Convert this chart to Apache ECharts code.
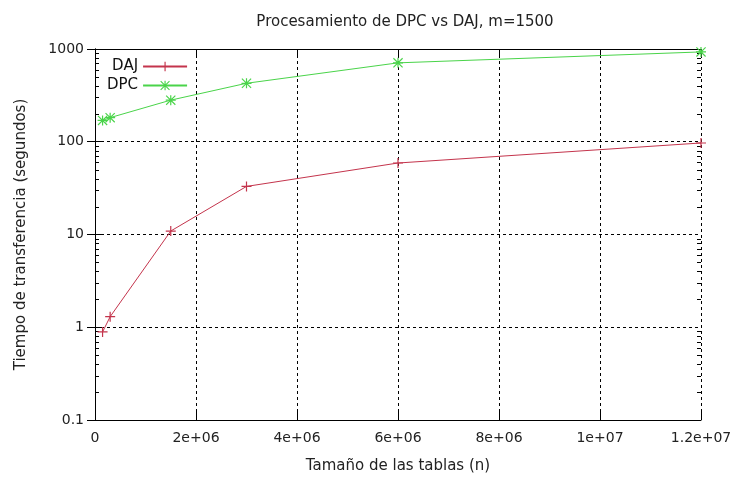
<!DOCTYPE html>
<html>
<head>
<meta charset="utf-8">
<script src="https://cdn.jsdelivr.net/npm/echarts@6/dist/echarts.min.js"></script>
<style>
html,body{margin:0;padding:0;background:#fff;}
#chart{width:731px;height:477px;}
</style>
</head>
<body>
<div id="chart"></div>
<script>
// ---- data ----
const titleText = 'Procesamiento de DPC vs DAJ, m=1500';
const xName = 'Tamaño de las tablas (n)';
const yName = 'Tiempo de transferencia (segundos)';
const seriesNames = ['DAJ', 'DPC'];
const xValues = [1.5e5, 3e5, 1.5e6, 3e6, 6e6, 1.2e7];
const dajValues = [0.89, 1.3, 10.9, 33, 59, 97];
const dpcValues = [170, 182, 281, 427, 709, 930];
const xTickValues = [0, 2e6, 4e6, 6e6, 8e6, 1e7, 1.2e7];
const xTickLabels = ['0', '2e+06', '4e+06', '6e+06', '8e+06', '1e+07', '1.2e+07'];
const yTickValues = [0.1, 1, 10, 100, 1000];
const yTickLabels = ['0.1', '1', '10', '100', '1000'];
const yMinorMultipliers = [2, 3, 4, 5, 6, 7, 8, 9];

// ---- build ----
const FONT = 'DejaVu Sans';
const redC = '#c4344c';
const greenC = '#4ad44a';
const plusPath = 'path://M0,4.4H10V5.6H0Z M4.4,0H5.6V10H4.4Z';
const starPath = 'path://M0,4.4H10V5.6H0Z M4.4,0H5.6V10H4.4Z M0,0.8L0.8,0L10,9.2L9.2,10Z M10,0.8L0.8,10L0,9.2L9.2,0Z';

function lookup(vals, labels, v) {
  for (let i = 0; i < vals.length; i++) {
    if (Math.abs(v - vals[i]) <= Math.abs(vals[i]) * 1e-6 + 1e-12) return labels[i];
  }
  return '';
}

const minorData = [];
for (let d = 0; d < yTickValues.length - 1; d++) {
  yMinorMultipliers.forEach(m => minorData.push([0, +(yTickValues[d] * m).toPrecision(6)]));
}

const xMin = xTickValues[0], xMax = xTickValues[xTickValues.length - 1];
const xInterval = xTickValues[1] - xTickValues[0];
const yMin = yTickValues[0], yMax = yTickValues[yTickValues.length - 1];

const chart = echarts.init(document.getElementById('chart'), null, {renderer: 'canvas'});
const axisLineStyle = {color: '#000', width: 1};
const option = {
  backgroundColor: '#fff',
  animation: false,
  title: {
    text: titleText,
    left: 400, textAlign: 'center', top: 10,
    textStyle: {fontFamily: FONT, fontSize: 15, fontWeight: 'normal', color: '#222'}
  },
  grid: {left: 95, right: 30, top: 49, bottom: 57, containLabel: false, outerBoundsMode: 'none'},
  legend: {
    orient: 'vertical', left: 102, top: 54, align: 'right',
    itemWidth: 44, itemHeight: 12, itemGap: 4,
    textStyle: {fontFamily: FONT, fontSize: 15, color: '#111', width: 35, align: 'right'},
    data: seriesNames
  },
  xAxis: [{
    type: 'value', min: xMin, max: xMax, interval: xInterval,
    name: xName, nameLocation: 'middle', nameGap: 39,
    nameTextStyle: {fontFamily: FONT, fontSize: 15, color: '#222'},
    axisLine: {lineStyle: axisLineStyle},
    axisTick: {inside: true, length: 8, lineStyle: {color: '#000'}},
    axisLabel: {fontFamily: FONT, fontSize: 14, color: '#222', margin: 11,
      formatter: v => lookup(xTickValues, xTickLabels, v)},
    splitLine: {show: true, lineStyle: {color: '#000', type: [3, 3], width: 1}}
  }, {
    type: 'value', position: 'top', min: xMin, max: xMax, interval: xInterval,
    axisLine: {show: true, lineStyle: axisLineStyle},
    axisTick: {show: true, inside: true, length: 8, lineStyle: {color: '#000'}},
    axisLabel: {show: false}, splitLine: {show: false}
  }],
  yAxis: [{
    type: 'log', logBase: 10, min: yMin, max: yMax,
    name: yName, nameLocation: 'middle', nameGap: 66, nameRotate: 90,
    nameTextStyle: {fontFamily: FONT, fontSize: 15, color: '#222'},
    axisLine: {show: true, lineStyle: axisLineStyle},
    axisTick: {show: true, inside: true, length: 8, lineStyle: {color: '#000'}},
    axisLabel: {fontFamily: FONT, fontSize: 14, color: '#222', margin: 11,
      formatter: v => lookup(yTickValues, yTickLabels, v)},
    splitLine: {show: true, lineStyle: {color: '#000', type: [3, 3], width: 1}}
  }, {
    type: 'log', logBase: 10, min: yMin, max: yMax, position: 'right',
    axisLine: {show: true, lineStyle: axisLineStyle},
    axisTick: {show: true, inside: true, length: 8, lineStyle: {color: '#000'}},
    axisLabel: {show: false}, splitLine: {show: false}
  }],
  series: [{
    name: seriesNames[0], type: 'line',
    data: xValues.map((x, i) => [x, dajValues[i]]),
    symbol: plusPath, symbolSize: 10, showSymbol: true,
    lineStyle: {color: redC, width: 1},
    itemStyle: {color: redC},
    z: 5
  }, {
    name: seriesNames[1], type: 'line',
    data: xValues.map((x, i) => [x, dpcValues[i]]),
    symbol: starPath, symbolSize: 10, showSymbol: true,
    lineStyle: {color: greenC, width: 1},
    itemStyle: {color: greenC},
    z: 5
  }, {
    type: 'custom', silent: true, clip: false, z: 3,
    data: minorData,
    encode: {x: 0, y: 1},
    renderItem: function (params, api) {
      const cs = params.coordSys;
      const p = api.coord([api.value(0), api.value(1)]);
      const y = Math.round(p[1]) + 0.5;
      const x0 = cs.x, x1 = cs.x + cs.width;
      return {
        type: 'group',
        children: [
          {type: 'line', shape: {x1: x0, y1: y, x2: x0 + 4, y2: y}, style: {stroke: '#000', lineWidth: 1}},
          {type: 'line', shape: {x1: x1 - 4, y1: y, x2: x1, y2: y}, style: {stroke: '#000', lineWidth: 1}}
        ]
      };
    }
  }]
};
chart.setOption(option);
</script>
</body>
</html>
